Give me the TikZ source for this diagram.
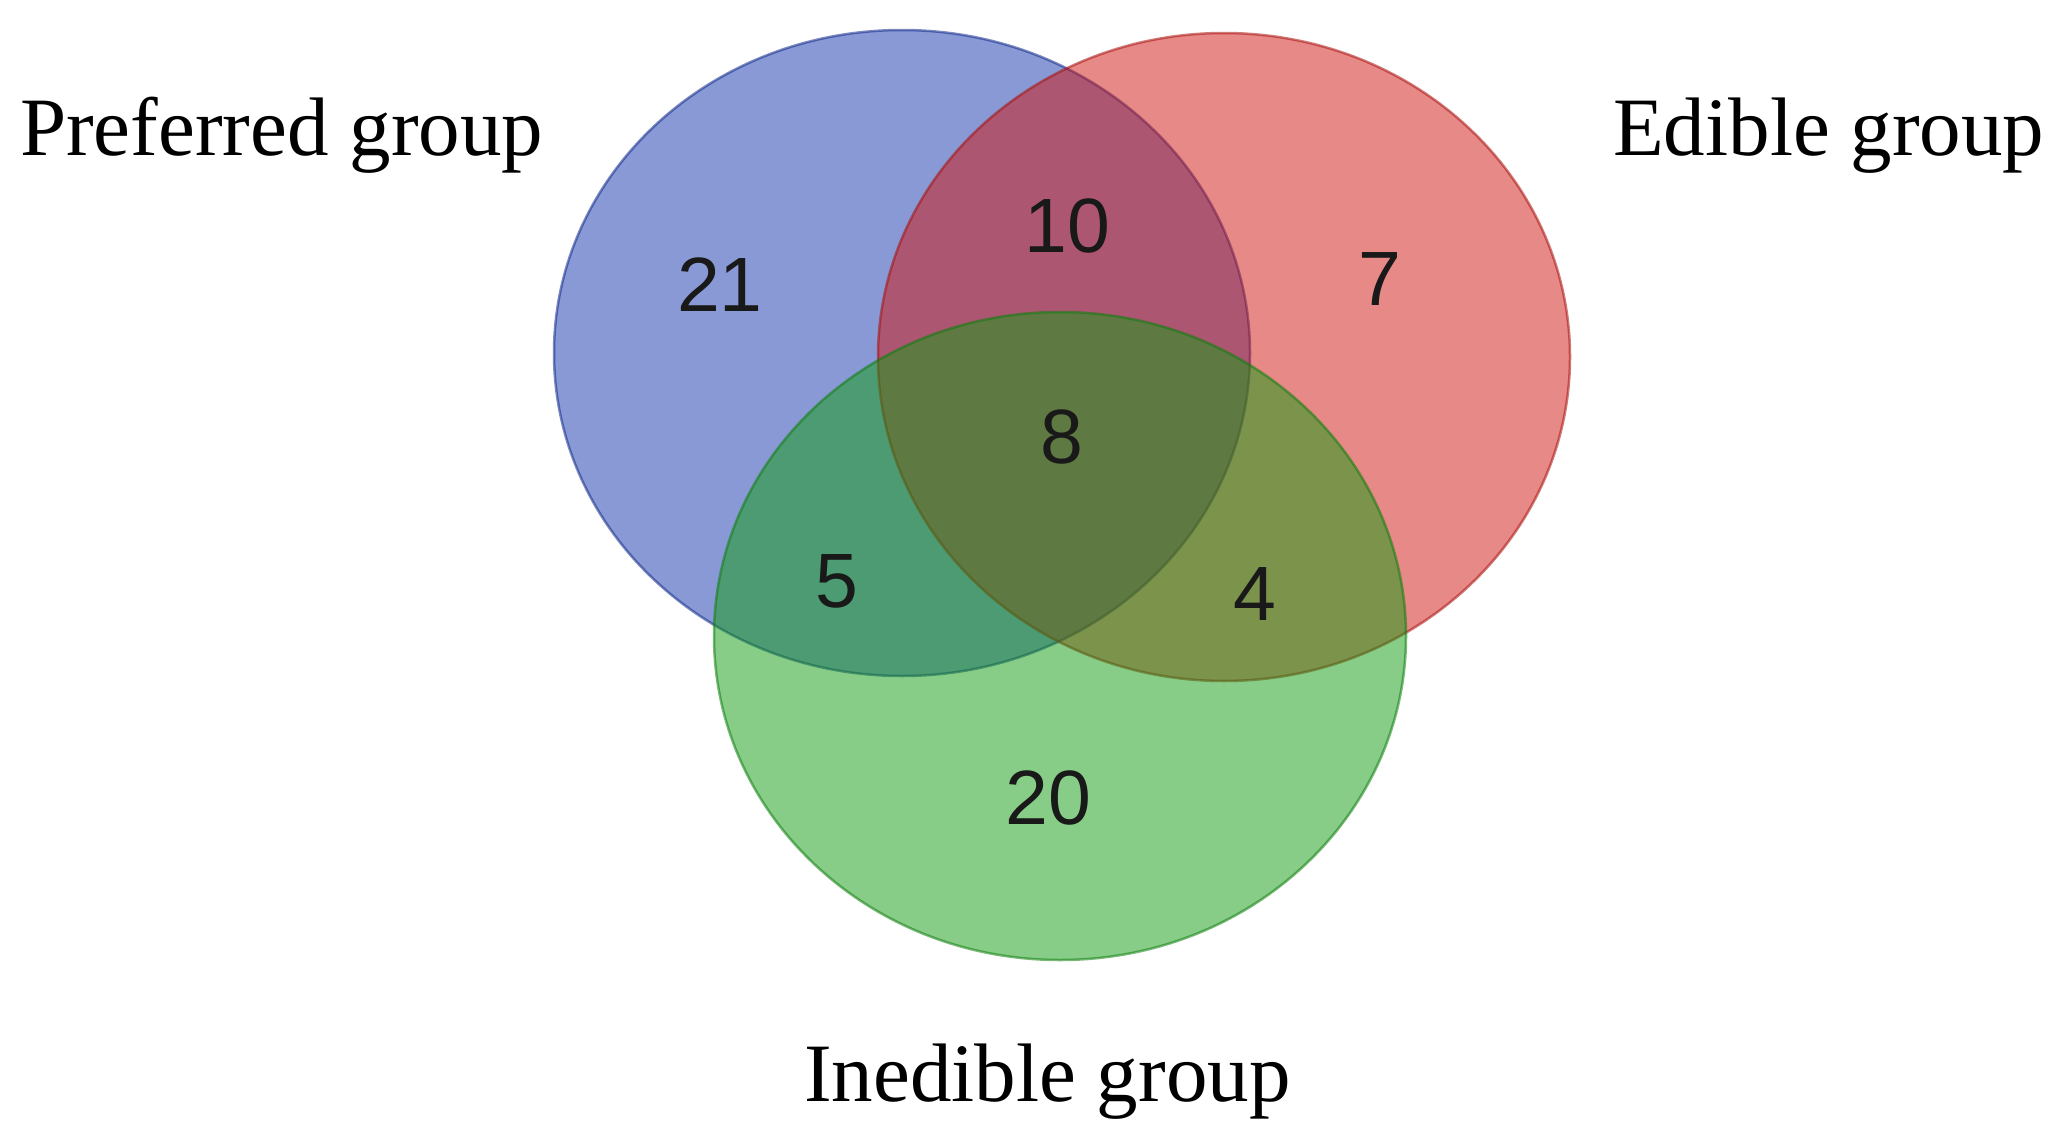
\documentclass[tikz,border=0pt]{standalone}
\usepackage{fontspec}
\setmainfont{Liberation Serif}
\newfontfamily\numfont{Liberation Sans}
\definecolor{vblue}{RGB}{21,53,173}
\definecolor{vred}{RGB}{209,21,17}
\definecolor{vgreen}{RGB}{17,157,17}
\begin{document}
\begin{tikzpicture}[x=1pt,y=-1pt,
  setfill/.style={fill=#1, fill opacity=0.5, draw=#1!80!black, draw opacity=0.55, line width=2.5pt},
  grouplabel/.style={anchor=base west, inner sep=0pt, font=\fontsize{83}{96}\selectfont},
  count/.style={anchor=base, inner sep=0pt, font=\numfont\fontsize{77}{90}\selectfont, text=black!90}]
\useasboundingbox[fill=white] (0,0) rectangle (2061,1148);
\draw[setfill=vblue]  (902,353)  ellipse [x radius=348, y radius=323];
\draw[setfill=vred]   (1224,357) ellipse [x radius=346, y radius=324];
\draw[setfill=vgreen] (1060,636) ellipse [x radius=346, y radius=324];
\node[grouplabel] (pref) at (20,155) {Preferred group};
\node[grouplabel] (edib) at (1613,155) {Edible group};
\node[grouplabel] (ined) at (804,1101) {Inedible group};
\node[count] (n21) at (720,311) {21};
\node[count] (n10) at (1067,252) {10};
\node[count] (n7)  at (1380,305) {7};
\node[count] (n8)  at (1062,463) {8};
\node[count] (n5)  at (837,607) {5};
\node[count] (n4)  at (1255,620) {4};
\node[count] (n20) at (1048,824) {20};
\end{tikzpicture}
\end{document}
